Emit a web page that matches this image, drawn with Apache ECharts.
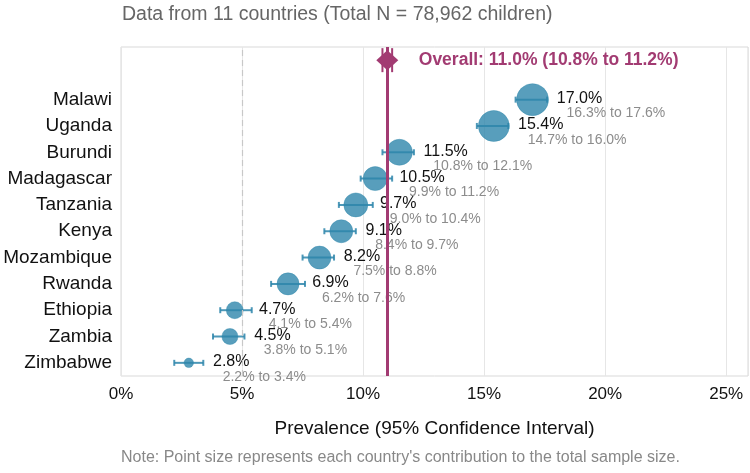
<!DOCTYPE html>
<html>
<head>
<meta charset="utf-8">
<script src="https://cdn.jsdelivr.net/npm/echarts@6/dist/echarts.min.js"></script>
<style>
  html, body { margin: 0; padding: 0; background: #fff; }
  #chart { width: 750px; height: 473px; }
</style>
</head>
<body>
<div id="chart"></div>
<script>
// countries, top to bottom
var countries = ['Malawi', 'Uganda', 'Burundi', 'Madagascar', 'Tanzania', 'Kenya', 'Mozambique', 'Rwanda', 'Ethiopia', 'Zambia', 'Zimbabwe'];
var prevalence = [17.0, 15.4, 11.5, 10.5, 9.7, 9.1, 8.2, 6.9, 4.7, 4.5, 2.8];
var lower = [16.3, 14.7, 10.8, 9.9, 9.0, 8.4, 7.5, 6.2, 4.1, 3.8, 2.2];
var upper = [17.6, 16.0, 12.1, 11.2, 10.4, 9.7, 8.8, 7.6, 5.4, 5.1, 3.4];
// share of total sample (%), estimated from point sizes
var sampleShare = [17.1, 16.0, 11.3, 9.6, 9.6, 8.8, 8.8, 8.1, 4.8, 4.3, 1.5];

var overall = 11.0, overallLow = 10.8, overallHigh = 11.2;
var xTicks = [0, 5, 10, 15, 20, 25];

var blue = '#2E86AB';
var magenta = '#A23B72';
var font = '"Liberation Sans", Arial, sans-serif';

var n = countries.length;
function rowY(i) { return n - i; }
var overallY = n + 1.5;

var pointData = prevalence.map(function (v, i) { return [v, rowY(i), sampleShare[i]]; });
var barData = prevalence.map(function (v, i) { return [lower[i], upper[i], rowY(i)]; });
var labelData = prevalence.map(function (v, i) { return [v, rowY(i), lower[i], upper[i]]; });

var chart = echarts.init(document.getElementById('chart'));

var option = {
  animation: false,
  title: {
    text: 'Data from 11 countries (Total N = 78,962 children)',
    left: 117,
    top: 0,
    textStyle: { fontFamily: font, fontSize: 19.5, fontWeight: 'normal', color: '#666' }
  },
  graphic: [{
    type: 'text',
    left: 121,
    top: 450,
    style: {
      text: "Note: Point size represents each country's contribution to the total sample size.",
      font: '16px ' + font,
      fill: '#888'
    }
  }],
  grid: {
    left: 121, right: 2, top: 47, bottom: 97,
    containLabel: false, outerBoundsMode: 'none',
    show: true, borderColor: '#d9d9d9', borderWidth: 1
  },
  xAxis: {
    type: 'value',
    min: 0,
    max: 25.9,
    interval: 5,
    name: 'Prevalence (95% Confidence Interval)',
    nameLocation: 'middle',
    nameGap: 43,
    nameTextStyle: { fontFamily: font, fontSize: 19, color: '#111' },
    axisLine: { show: false },
    axisTick: { show: false },
    axisLabel: {
      fontFamily: font, fontSize: 17, color: '#111', margin: 10,
      customValues: xTicks,
      formatter: function (v) { return v + '%'; }
    },
    splitLine: { show: true, lineStyle: { color: '#e6e6e6', width: 1 } }
  },
  yAxis: {
    type: 'value',
    min: 0.5,
    max: 13,
    interval: 0.5,
    axisLine: { show: false },
    axisTick: { show: false },
    splitLine: { show: false },
    axisLabel: {
      fontFamily: font, fontSize: 19, color: '#111', margin: 9,
      formatter: function (v) {
        var r = Math.round(v);
        if (Math.abs(v - r) > 1e-6 || r < 1 || r > n) return '';
        return countries[n - r];
      }
    }
  },
  series: [
    {
      // dashed reference line at 5%
      type: 'scatter',
      data: [],
      markLine: {
        silent: true,
        symbol: 'none',
        label: { show: false },
        lineStyle: { color: '#c8c8c8', type: [6, 4], width: 1.2 },
        data: [{ xAxis: 5 }]
      }
    },
    {
      type: 'custom',
      renderItem: function (params, api) {
        var a = api.coord([api.value(0), api.value(2)]);
        var b = api.coord([api.value(1), api.value(2)]);
        var h = 3;
        var st = { stroke: blue, lineWidth: 2, opacity: 0.85 };
        return {
          type: 'group',
          children: [
            { type: 'line', shape: { x1: a[0], y1: a[1], x2: b[0], y2: b[1] }, style: st },
            { type: 'line', shape: { x1: a[0], y1: a[1] - h, x2: a[0], y2: a[1] + h }, style: st },
            { type: 'line', shape: { x1: b[0], y1: b[1] - h, x2: b[0], y2: b[1] + h }, style: st }
          ]
        };
      },
      encode: { x: [0, 1], y: 2 },
      data: barData,
      z: 2
    },
    {
      type: 'scatter',
      data: pointData,
      symbolSize: function (d) { return 7.74 * Math.sqrt(d[2]); },
      itemStyle: { color: blue, opacity: 0.8, borderColor: blue, borderWidth: 0.5 },
      z: 3
    },
    {
      type: 'custom',
      renderItem: function (params, api) {
        var v = api.value(0), y = api.value(1);
        var p = api.coord([v + 1.0, y]);
        var q = api.coord([v + 1.4, y]);
        return {
          type: 'group',
          children: [
            { type: 'text', style: { x: p[0], y: p[1] - 1, text: v.toFixed(1) + '%', fill: '#111', font: '16px ' + font, textAlign: 'left', textVerticalAlign: 'middle' } },
            { type: 'text', style: { x: q[0], y: q[1] + 14, text: api.value(2).toFixed(1) + '% to ' + api.value(3).toFixed(1) + '%', fill: '#8c8c8c', font: '14px ' + font, textAlign: 'left', textVerticalAlign: 'middle' } }
          ]
        };
      },
      encode: { x: 0, y: 1 },
      data: labelData,
      z: 4
    },
    {
      // overall estimate line, diamond and label
      type: 'custom',
      renderItem: function (params, api) {
        var c = api.coord([api.value(0), api.value(1)]);
        var a = api.coord([api.value(2), api.value(1)]);
        var b = api.coord([api.value(3), api.value(1)]);
        var t = api.coord([api.value(0) + 1.3, api.value(1)]);
        var h = 12;
        var st = { stroke: magenta, lineWidth: 2 };
        return {
          type: 'group',
          children: [
            { type: 'line', shape: { x1: a[0], y1: a[1] - h, x2: a[0], y2: a[1] + h }, style: st },
            { type: 'line', shape: { x1: b[0], y1: b[1] - h, x2: b[0], y2: b[1] + h }, style: st },
            { type: 'polygon', shape: { points: [[c[0], c[1] - 10], [c[0] + 11, c[1]], [c[0], c[1] + 10], [c[0] - 11, c[1]]] }, style: { fill: magenta } },
            { type: 'text', style: { x: t[0], y: t[1], text: 'Overall: ' + api.value(0).toFixed(1) + '% (' + api.value(2).toFixed(1) + '% to ' + api.value(3).toFixed(1) + '%)', fill: magenta, font: 'bold 17.5px ' + font, textAlign: 'left', textVerticalAlign: 'middle' } }
          ]
        };
      },
      encode: { x: 0, y: 1 },
      data: [[overall, overallY, overallLow, overallHigh]],
      markLine: {
        silent: true,
        symbol: 'none',
        label: { show: false },
        lineStyle: { color: magenta, type: 'solid', width: 3 },
        data: [{ xAxis: overall }]
      },
      z: 5
    }
  ]
};

chart.setOption(option);
</script>
</body>
</html>
